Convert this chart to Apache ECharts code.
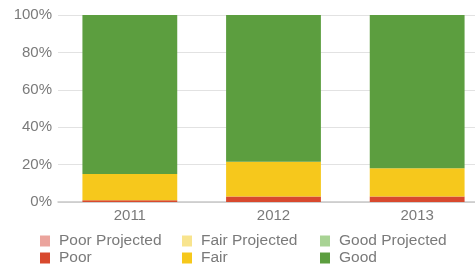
<!DOCTYPE html>
<html><head><meta charset="utf-8">
<script src="https://cdn.jsdelivr.net/npm/echarts@6/dist/echarts.min.js"></script>
<style>html,body{margin:0;padding:0;background:#fff;overflow:hidden}#c{width:489px;height:271px}</style>
</head><body><div id="c"></div>
<script>
const categories = ['2011', '2012', '2013'];
const poorProjected = [0, 0, 0];
const fairProjected = [0, 0, 0];
const goodProjected = [0, 0, 0];
const poor = [1, 3, 3];
const fair = [14, 18.5, 15];
const good = [85, 78.5, 82];
const yTicks = [0, 20, 40, 60, 80, 100];

const colors = {
  'Poor Projected': '#eba49d', 'Fair Projected': '#f8e48e', 'Good Projected': '#a8d394',
  'Poor': '#d8492e', 'Fair': '#f6c81c', 'Good': '#5c9e3f'
};
const seriesData = [
  ['Poor Projected', poorProjected], ['Fair Projected', fairProjected], ['Good Projected', goodProjected],
  ['Poor', poor], ['Fair', fair], ['Good', good]
];
const font = 'Liberation Sans, Arial, sans-serif';
const chart = echarts.init(document.getElementById('c'), null, {renderer: 'canvas'});
function leg(names, left) {
  return {
    orient: 'vertical', left: left, top: 233, itemWidth: 10, itemHeight: 11, itemGap: 1,
    icon: 'rect', data: names,
    textStyle: {color: '#7a7a7a', fontSize: 15.5, fontFamily: font, padding: [0, 0, 0, 4]},
    padding: 0
  };
}
chart.setOption({
  animation: false,
  grid: {left: 58, right: 0, top: 15, bottom: 69, containLabel: false},
  legend: [
    leg(['Poor Projected', 'Poor'], 40),
    leg(['Fair Projected', 'Fair'], 182),
    leg(['Good Projected', 'Good'], 320)
  ],
  xAxis: {
    type: 'category', data: categories,
    axisLine: {lineStyle: {color: '#c8c8c8', width: 1.5}},
    axisTick: {show: false},
    axisLabel: {color: '#7a7a7a', fontSize: 15, fontFamily: font, margin: 6}
  },
  yAxis: {
    type: 'value', min: 0, max: 100, interval: 20,
    axisLine: {show: false}, axisTick: {show: false},
    splitLine: {lineStyle: {color: '#e2e2e2', width: 1}},
    axisLabel: {color: '#7a7a7a', fontSize: 15, fontFamily: font, margin: 6,
      formatter: v => yTicks.includes(v) ? v + '%' : ''}
  },
  series: seriesData.map(([name, data]) => ({
    name: name, type: 'bar', stack: 'total', data: data, barWidth: '66%',
    itemStyle: {color: colors[name]}
  }))
});
</script></body></html>
